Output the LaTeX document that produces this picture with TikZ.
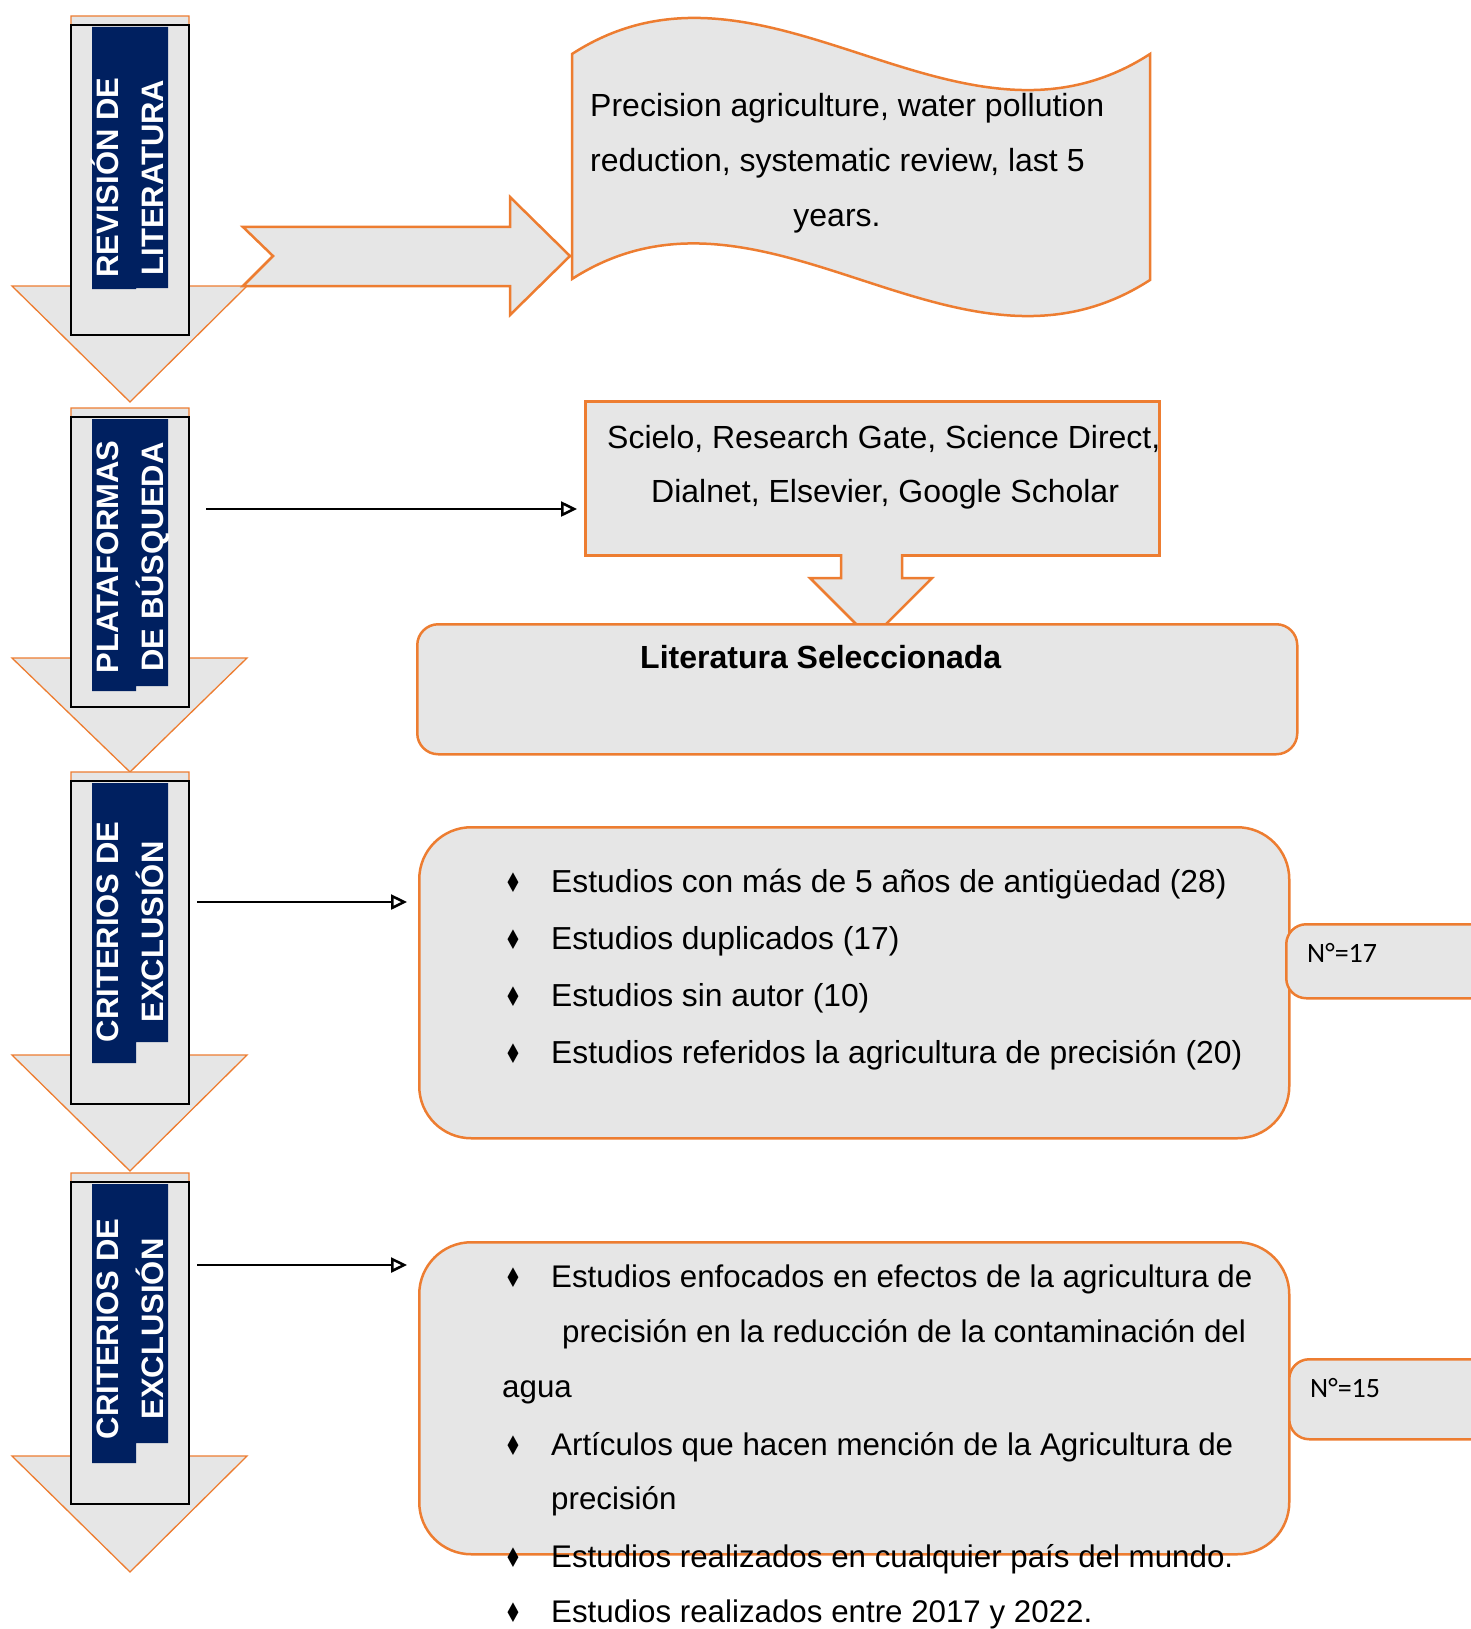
\documentclass[tikz,border=0pt]{standalone}
\usepackage{fontspec}
\setmainfont{Liberation Sans}
\newfontfamily\calibrifont{Carlito}
\newfontfamily\bulletfont{DejaVu Sans}
\usetikzlibrary{arrows.meta}
\definecolor{accent}{HTML}{ED7D31}
\definecolor{panel}{HTML}{E6E6E6}
\definecolor{navy}{HTML}{002060}
\newcommand{\bodysize}{\fontsize{32}{38}\selectfont}
\newcommand{\narrowsize}{\fontsize{31.3}{38}\selectfont}
\newcommand{\listbullet}{{\bulletfont\fontsize{27}{27}\selectfont\scalebox{0.72}[1]{♦}}}

\begin{document}
\begin{tikzpicture}[x=1pt, y=-1pt, >={Triangle[open, length=16pt, width=15pt]},
  panelshape/.style={draw=accent, fill=panel, line width=2.5pt, inner sep=0pt, anchor=north west},
  stagearrow/.style={draw=accent, fill=panel, line width=1.3pt},
  stagebar/.style={draw=black, fill=panel, line width=2pt},
  stagelabel/.style={rotate=90, anchor=base, inner sep=0pt, text=white, font=\bfseries\fontsize{31}{31}\selectfont},
  listline/.style={anchor=base west, inner sep=0pt, font=\bodysize},
  narrowline/.style={listline, font=\narrowsize},
  listmark/.style={anchor=base, inner sep=0pt},
  countlabel/.style={anchor=base west, inner sep=0pt, font=\calibrifont\fontsize{28}{28}\selectfont},
  linkarrow/.style={->, line width=2.5pt}]
\useasboundingbox (0,0) rectangle (1471,1629);

\foreach \yt/\yb/\yh/\ya/\bl/\br/\ym/\first/\second [count=\i] in {
  16/335/286/402/289/288/177.5/{REVISIÓN DE}/{LITERATURA},
  408/707/658/772/691/686/557/{PLATAFORMAS}/{DE BÚSQUEDA},
  772/1104/1055/1171/1063/1042/932/{CRITERIOS DE}/{EXCLUSIÓN},
  1173/1504/1456/1572/1463/1443/1329/{CRITERIOS DE}/{EXCLUSIÓN}}{
  \draw[stagearrow] (71,\yt) -- (189,\yt) -- (189,\yh) -- (247,\yh) -- (130,\ya) -- (12,\yh) -- (71,\yh) -- cycle;
  \draw[stagebar] (71,\yt+9) rectangle (189,\yb);
  \fill[navy] (92,\yt+11) -- (168,\yt+11) -- (168,\br) -- (136,\br) -- (136,\bl) -- (92,\bl) -- cycle;
  \node[stagelabel] (stagea\i) at (118,\ym) {\first};
  \node[stagelabel] (stageb\i) at (163,\ym) {\second};
}

\draw[panelshape] (243,227) -- (510,227) -- (510,197) -- (570,256) -- (510,315) -- (510,286) -- (243,286) -- (273,256) -- cycle;

\draw[panelshape] (572,54) .. controls (765,-71) and (957,179) .. (1150,54) -- (1150,280)
  .. controls (957,405) and (765,155) .. (572,279) -- cycle;
\node[listline] (keyword1) at (590,117) {Precision agriculture, water pollution};
\node[listline] (keyword2) at (590,172) {reduction, systematic review, last 5};
\node[listline, anchor=base] (keyword3) at (837,227) {years.};

\node[panelshape, minimum width=574pt, minimum height=154pt] (platforms) at (584,400) {};
\node[listline] (platform1) at (607,448) {Scielo, Research Gate, Science Direct,};
\node[listline] (platform2) at (651,502) {Dialnet, Elsevier, Google Scholar};
\fill[panel] (841,551) -- (902,551) -- (902,578) -- (932,578) -- (871,639) -- (810,578) -- (841,578) -- cycle;
\draw[accent, line width=2.5pt] (841,554) -- (841,578) -- (810,578) -- (871,639) -- (932,578) -- (902,578) -- (902,554);

\node[panelshape, rounded corners=21pt, minimum width=880pt, minimum height=130pt] (selected) at (416,623) {};
\node[listline, font=\bodysize\bfseries] (selectedtext) at (640,668) {Literatura Seleccionada};

\coordinate (searchstart) at (206,509);
\draw[linkarrow, shorten >=7pt] (searchstart) -- (searchstart -| platforms.west);

\node[panelshape, rounded corners=52pt, minimum width=870pt, minimum height=311pt] (exclusion) at (418,826) {};
\node[panelshape, rounded corners=20pt, minimum width=220pt, minimum height=74pt] (countone) at (1285,923) {};
\node[countlabel] (countonetext) at (1307,962) {N°=17};
\foreach \yb/\txt [count=\i] in {892/{Estudios con más de 5 años de antigüedad (28)},
  949/{Estudios duplicados (17)}, 1006/{Estudios sin autor (10)},
  1063/{Estudios referidos la agricultura de precisión (20)}}{
  \node[listmark] (exmark\i) at (513,\yb) {\listbullet};
  \node[listline, font=\fontsize{31.8}{38}\selectfont] (exitem\i) at (551,\yb) {\txt};
}
\coordinate (exstart) at (197,902);
\draw[linkarrow, shorten >=11pt] (exstart) -- (exstart -| exclusion.west);

\node[panelshape, rounded corners=52pt, minimum width=870pt, minimum height=312pt] (inclusion) at (418,1241) {};
\node[panelshape, rounded corners=20pt, minimum width=220pt, minimum height=80pt] (counttwo) at (1288,1358) {};
\node[countlabel] (counttwotext) at (1310,1397) {N°=15};
\foreach \yb [count=\i] in {1287,1455,1567,1622}
  \node[listmark] (inmark\i) at (513,\yb) {\listbullet};
\node[narrowline] (initem1) at (551,1287) {Estudios enfocados en efectos de la agricultura de};
\node[narrowline] (initem2) at (562,1342) {precisión en la reducción de la contaminación del};
\node[narrowline] (initem3) at (502,1397) {agua};
\node[narrowline] (initem4) at (551,1455) {Artículos que hacen mención de la Agricultura de};
\node[narrowline] (initem5) at (551,1509) {precisión};
\node[narrowline] (initem6) at (551,1567) {Estudios realizados en cualquier país del mundo.};
\node[narrowline] (initem7) at (551,1622) {Estudios realizados entre 2017 y 2022.};
\coordinate (instart) at (197,1265);
\draw[linkarrow, shorten >=11pt] (instart) -- (instart -| inclusion.west);
\end{tikzpicture}
\end{document}
